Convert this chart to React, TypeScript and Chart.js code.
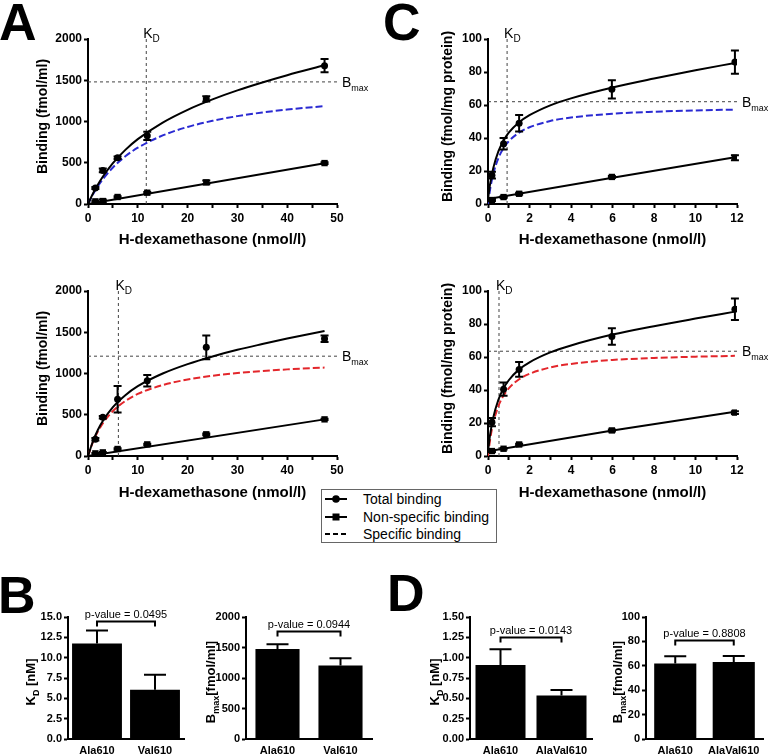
import React, { useEffect, useRef } from 'react';
import { Chart, registerables } from 'chart.js';

Chart.register(...registerables);

const FONT = "'Liberation Sans', Arial, Helvetica, sans-serif";
Chart.defaults.font.family = FONT;
Chart.defaults.color = '#000';

// ---------- Panel A (nmol/l 0-50) ----------
const A_CONC = [1.48, 2.97, 5.94, 11.9, 23.75, 47.5];
const A_CURVE_X = [0, 1, 2, 3, 5, 7.5, 10, 15, 20, 25, 30, 35, 40, 47.5];
const A_NS_LINE_X = [0, 47.5];

// A top (Ala610, blue)
const A1_TOTAL = [194, 407, 560, 826, 1274, 1677];
const A1_TOTAL_SEM = [12, 22, 15, 50, 32, 80];
const A1_NS = [32, 36, 85, 137, 262, 496];
const A1_NS_SEM = [6, 18, 8, 8, 22, 10];
const A1_TOTAL_FIT = [0, 127, 237, 333, 495, 656, 786, 987, 1142, 1268, 1377, 1473, 1561, 1681];
const A1_SPEC_FIT = [0, 117, 216, 302, 443, 578, 682, 831, 934, 1008, 1065, 1109, 1145, 1187];
const A1_NS_FIT = [0, 494];
const A1_KD = 11.7;
const A1_BMAX = 1480;

// A bottom (Val610, red)
const A2_TOTAL = [202, 469, 687, 913, 1317, 1422];
const A2_TOTAL_SEM = [15, 15, 160, 70, 145, 40];
const A2_NS = [32, 44, 85, 141, 263, 444];
const A2_NS_SEM = [5, 5, 8, 8, 10, 8];
const A2_TOTAL_FIT = [0, 179, 318, 427, 592, 737, 846, 1000, 1114, 1207, 1287, 1357, 1424, 1516];
const A2_SPEC_FIT = [0, 170, 299, 399, 545, 667, 752, 860, 927, 973, 1006, 1030, 1050, 1072];
const A2_NS_FIT = [0, 444];
const A2_KD = 6.1;
const A2_BMAX = 1210;

// ---------- Panel C (nmol/l 0-12) ----------
const C_CONC = [0.19, 0.75, 1.5, 5.97, 11.9];
const C_CURVE_X = [0, 0.1, 0.25, 0.5, 0.75, 1, 1.5, 2, 3, 4, 6, 8, 10, 11.9];
const C_NS_LINE_X = [0, 6, 11.9];

// C top (Ala610, blue)
const C1_TOTAL = [17.5, 36.5, 49, 69.5, 86];
const C1_TOTAL_SEM = [2, 3.5, 5, 5.5, 7];
const C1_NS = [2.4, 4.2, 6.2, 16.4, 28];
const C1_NS_SEM = [0.6, 0.5, 0.6, 0.6, 1.5];
const C1_TOTAL_FIT = [3.0, 12.0, 21.6, 31.9, 38.4, 43.2, 49.5, 53.8, 59.8, 64.0, 70.6, 76.0, 81.0, 85.5];
const C1_SPEC_FIT = [0, 8.8, 18.1, 27.8, 33.8, 38, 43.3, 46.5, 50.3, 52.4, 54.7, 55.9, 56.7, 57.2];
const C1_NS_FIT = [3.0, 15.9, 28.3];
const C1_KD = 0.92;
const C1_BMAX = 62;

// C bottom (AlaVal610, red)
const C2_TOTAL = [20.5, 40.5, 52.5, 72.5, 89];
const C2_TOTAL_SEM = [2.5, 4, 4.5, 5, 6.5];
const C2_NS = [3, 4.4, 7, 15.5, 26.3];
const C2_NS_SEM = [0.5, 0.5, 0.5, 0.6, 0.8];
const C2_TOTAL_FIT = [2.8, 12.8, 23.1, 34.1, 41.0, 45.9, 52.5, 56.8, 62.8, 67.0, 73.6, 78.7, 83.3, 87.5];
const C2_SPEC_FIT = [0, 9.8, 19.8, 30.2, 36.6, 41, 46.5, 49.8, 53.7, 55.8, 58.2, 59.4, 60.2, 60.7];
const C2_NS_FIT = [2.8, 15.4, 26.8];
const C2_KD = 0.53;
const C2_BMAX = 63.5;

// ---------- Panels B and D (bars) ----------
const B_CATS = ['Ala610', 'Val610'];
const B_KD = [11.75, 6.05];
const B_KD_SEM = [1.58, 1.85];
const B_KD_P = 'p-value = 0.0495';
const B_KD_BRACKET = 14.5;
const B_BMAX = [1477, 1204];
const B_BMAX_SEM = [76, 120];
const B_BMAX_P = 'p-value = 0.0944';
const B_BMAX_BRACKET = 1770;

const D_CATS = ['Ala610', 'AlaVal610'];
const D_KD = [0.909, 0.534];
const D_KD_SEM = [0.196, 0.069];
const D_KD_P = 'p-value = 0.0143';
const D_KD_BRACKET = 1.254;
const D_BMAX = [61.9, 63.2];
const D_BMAX_SEM = [5.9, 4.9];
const D_BMAX_P = 'p-value = 0.8808';
const D_BMAX_BRACKET = 81;

const X_TITLE = 'H-dexamethasone (nmol/l)';
const BLUE = '#2a2ad2';
const RED = '#e3262b';

// ---------- drawing helpers ----------
function drawSubText(ctx: any, x: number, y: number, main: string, sub: string, tail: string,
  size: number, subSize: number, bold: boolean, align: string) {
  const w = bold ? 'bold ' : '';
  const f1 = `${w}${size}px ${FONT}`;
  const f2 = `${w}${subSize}px ${FONT}`;
  ctx.font = f1;
  const w1 = ctx.measureText(main).width;
  const w3 = tail ? ctx.measureText(tail).width : 0;
  ctx.font = f2;
  const w2 = sub ? ctx.measureText(sub).width : 0;
  const total = w1 + w2 + w3;
  const sx = align === 'center' ? x - total / 2 : x;
  ctx.fillStyle = '#000';
  ctx.textAlign = 'left';
  ctx.textBaseline = 'alphabetic';
  ctx.font = f1;
  ctx.fillText(main, sx, y);
  if (sub) {
    ctx.font = f2;
    ctx.fillText(sub, sx + w1, y + size * 0.3);
  }
  if (tail) {
    ctx.font = f1;
    ctx.fillText(tail, sx + w1 + w2, y);
  }
}

function drawRotated(ctx: any, cx: number, cy: number, main: string, sub: string, tail: string,
  size: number, subSize: number, bold: boolean) {
  ctx.save();
  ctx.translate(cx, cy);
  ctx.rotate(-Math.PI / 2);
  drawSubText(ctx, 0, size * 0.36, main, sub, tail, size, subSize, bold, 'center');
  ctx.restore();
}

const errorBarPlugin = {
  id: 'errbars',
  afterDatasetsDraw(chart: any) {
    const ctx = chart.ctx;
    chart.data.datasets.forEach((ds: any, i: number) => {
      if (!ds.sem) return;
      const meta = chart.getDatasetMeta(i);
      const ys = chart.scales[meta.yAxisID];
      ctx.save();
      ctx.strokeStyle = '#000';
      ctx.lineWidth = 2;
      meta.data.forEach((el: any, j: number) => {
        const raw = ds.data[j];
        const v = typeof raw === 'number' ? raw : raw.y;
        const e = ds.sem[j];
        if (!e) return;
        const x = el.x;
        const yT = ys.getPixelForValue(v + e);
        const yB = ds.errUpOnly ? ys.getPixelForValue(v) : ys.getPixelForValue(v - e);
        const cw = ds.capWidth / 2;
        ctx.beginPath();
        ctx.moveTo(x, yT);
        ctx.lineTo(x, yB);
        ctx.moveTo(x - cw, yT);
        ctx.lineTo(x + cw, yT);
        if (!ds.errUpOnly) {
          ctx.moveTo(x - cw, yB);
          ctx.lineTo(x + cw, yB);
        }
        ctx.stroke();
      });
      ctx.restore();
    });
  },
};
Chart.register(errorBarPlugin);

const pts = (xs: number[], ys: number[]) => xs.map((x, i) => ({ x, y: ys[i] }));

function bindingChart(o: any) {
  const axisCommon = {
    grid: { drawOnChartArea: false, drawTicks: true, tickLength: 4, tickWidth: 2, tickColor: '#000' },
    border: { display: true, color: '#000', width: 2 },
  };
  return {
    type: 'line',
    data: {
      datasets: [
        { data: pts(o.conc, o.total), showLine: false, pointStyle: 'circle', pointRadius: 3.5,
          pointBackgroundColor: '#000', pointBorderWidth: 0, sem: o.totalSem, capWidth: 8 },
        { data: pts(o.conc, o.ns), showLine: false, pointStyle: 'rect', pointRadius: 4.5,
          pointBackgroundColor: '#000', pointBorderWidth: 0, sem: o.nsSem, capWidth: 8 },
        { data: pts(o.curveX, o.totalFit), borderColor: '#000', borderWidth: 2, pointRadius: 0,
          cubicInterpolationMode: 'monotone' },
        { data: pts(o.nsLineX, o.nsFit), borderColor: '#000', borderWidth: 2, pointRadius: 0 },
        { data: pts(o.curveX, o.specFit), borderColor: o.specColor, borderWidth: 2, borderDash: [7, 3],
          pointRadius: 0, cubicInterpolationMode: 'monotone' },
        { data: [{ x: o.kd, y: 0 }, { x: o.kd, y: o.yMax }], borderColor: '#444', borderWidth: 1,
          borderDash: [3, 3], pointRadius: 0 },
        { data: [{ x: 0, y: o.bmax }, { x: o.xMax, y: o.bmax }], borderColor: '#444', borderWidth: 1,
          borderDash: [3, 3], pointRadius: 0 },
      ],
    },
    options: {
      responsive: false,
      animation: false,
      events: [],
      layout: { padding: { top: o.padTop, right: o.padRight, left: 0, bottom: 0 } },
      plugins: { legend: { display: false }, tooltip: { enabled: false } },
      scales: {
        x: {
          type: 'linear', min: 0, max: o.xMax,
          ticks: {
            stepSize: o.xStep, autoSkip: false, maxRotation: 0, padding: 3,
            font: { size: 12, weight: 'bold' },
            callback: (v: number) => (v % o.labelEvery === 0 ? String(v) : ''),
          },
          ...axisCommon,
          title: { display: true, text: X_TITLE, font: { size: 15, weight: 'bold' },
            padding: { top: 0, bottom: o.xTitlePad } },
          afterFit: (s: any) => { s.height = o.xAxisH; },
        },
        y: {
          type: 'linear', min: 0, max: o.yMax,
          ticks: { stepSize: o.yStep, padding: 2, font: { size: 12, weight: 'bold' },
            callback: (v: number) => String(v) },
          ...axisCommon,
          afterFit: (s: any) => { s.width = o.yAxisW; },
        },
      },
    },
    plugins: [{
      id: 'refLabels',
      afterDraw(chart: any) {
        const { ctx, chartArea, scales } = chart;
        const kx = scales.x.getPixelForValue(o.kd);
        ctx.save();
        drawSubText(ctx, kx - 3, chartArea.top - 1, 'K', 'D', '', 14, 10, false, 'left');
        const by = scales.y.getPixelForValue(o.bmax);
        drawSubText(ctx, chartArea.right + 5, by + 5, 'B', 'max', '', 14, 9, false, 'left');
        drawRotated(ctx, o.yTitleX, (chartArea.top + chartArea.bottom) / 2 - 5, o.yTitle, '', '', 14, 10, true);
        ctx.restore();
      },
    }],
  };
}

function barChart(o: any) {
  return {
    type: 'bar',
    data: {
      labels: o.cats,
      datasets: [{ data: o.vals, backgroundColor: '#000', barPercentage: o.barPct, categoryPercentage: 1,
        sem: o.sems, errUpOnly: true, capWidth: o.cap }],
    },
    options: {
      responsive: false,
      animation: false,
      events: [],
      layout: { padding: { top: 57, right: o.padRight, left: 0, bottom: 0 } },
      plugins: { legend: { display: false }, tooltip: { enabled: false } },
      scales: {
        x: {
          grid: { display: false, drawTicks: false },
          border: { display: true, color: '#000', width: 2 },
          ticks: { padding: 5, autoSkip: false, maxRotation: 0, font: { size: 11, weight: 'bold' } },
          afterFit: (s: any) => { s.height = 15; },
        },
        y: {
          min: 0, max: o.yMax,
          ticks: { stepSize: o.yStep, padding: 2, font: { size: 11, weight: 'bold' },
            callback: (v: number) => Number(v).toFixed(o.decimals) },
          grid: { drawOnChartArea: false, drawTicks: true, tickLength: 4, tickWidth: 2, tickColor: '#000' },
          border: { display: true, color: '#000', width: 2 },
          afterFit: (s: any) => { s.width = o.yAxisW; },
        },
      },
    },
    plugins: [{
      id: 'barDecor',
      afterDraw(chart: any) {
        const { ctx, chartArea, scales } = chart;
        ctx.save();
        drawRotated(ctx, o.titleX, (chartArea.top + chartArea.bottom) / 2 + 4,
          o.title[0], o.title[1], o.title[2], 13, 9, true);
        const x1 = scales.x.getPixelForValue(0);
        const x2 = scales.x.getPixelForValue(1);
        const yy = Math.round(scales.y.getPixelForValue(o.bracketY)) + 0.5;
        ctx.strokeStyle = '#000';
        ctx.lineWidth = 2;
        ctx.beginPath();
        ctx.moveTo(x1, yy + 5);
        ctx.lineTo(x1, yy);
        ctx.lineTo(x2, yy);
        ctx.lineTo(x2, yy + 5);
        ctx.stroke();
        ctx.font = `11px ${FONT}`;
        ctx.fillStyle = '#000';
        ctx.textAlign = 'center';
        ctx.textBaseline = 'alphabetic';
        ctx.fillText(o.pText, (x1 + x2) / 2, yy - 4);
        ctx.restore();
      },
    }],
  };
}

function ChartBox({ left, top, width, height, config }: any) {
  const ref = useRef<HTMLCanvasElement>(null);
  useEffect(() => {
    const chart = new Chart(ref.current as HTMLCanvasElement, config);
    return () => chart.destroy();
  }, []);
  return (
    <div style={{ position: 'absolute', left, top, width, height }}>
      <canvas ref={ref} width={width} height={height} style={{ width, height, display: 'block' }} />
    </div>
  );
}

const letterStyle: any = {
  position: 'absolute', fontFamily: FONT, fontWeight: 'bold', fontSize: 52, lineHeight: '52px', color: '#000',
};

function Legend() {
  const row = (top: number, sym: any, text: string) => (
    <div style={{ position: 'absolute', left: 0, top, height: 18, width: 176 }}>
      <svg width={26} height={18} style={{ position: 'absolute', left: 2, top: 0 }}>{sym}</svg>
      <span style={{ position: 'absolute', left: 41, top: 0, lineHeight: '18px', fontSize: 14, whiteSpace: 'nowrap' }}>{text}</span>
    </div>
  );
  return (
    <div style={{ position: 'absolute', left: 321, top: 489, width: 176, height: 54, border: '1px solid #666',
      boxSizing: 'border-box', fontFamily: FONT, color: '#000', background: '#fff' }}>
      {row(0, <g><line x1={1} y1={9} x2={23} y2={9} stroke="#000" strokeWidth={2} /><circle cx={12} cy={9} r={3.8} fill="#000" /></g>, 'Total binding')}
      {row(18, <g><line x1={1} y1={9} x2={23} y2={9} stroke="#000" strokeWidth={2} /><rect x={8.5} y={5.5} width={7} height={7} fill="#000" /></g>, 'Non-specific binding')}
      {row(35, <g><line x1={1} y1={9} x2={23} y2={9} stroke="#000" strokeWidth={2} strokeDasharray="5,3" /></g>, 'Specific binding')}
    </div>
  );
}

export default function App() {
  const aTop = bindingChart({
    conc: A_CONC, total: A1_TOTAL, totalSem: A1_TOTAL_SEM, ns: A1_NS, nsSem: A1_NS_SEM,
    curveX: A_CURVE_X, totalFit: A1_TOTAL_FIT, specFit: A1_SPEC_FIT, nsLineX: A_NS_LINE_X, nsFit: A1_NS_FIT,
    kd: A1_KD, bmax: A1_BMAX, specColor: BLUE, xMax: 50, xStep: 5, labelEvery: 10, yMax: 2000, yStep: 500,
    padTop: 39, padRight: 47, yAxisW: 88, xAxisH: 46, xTitlePad: 1, yTitleX: 42, yTitle: 'Binding (fmol/ml)',
  });
  const aBot = bindingChart({
    conc: A_CONC, total: A2_TOTAL, totalSem: A2_TOTAL_SEM, ns: A2_NS, nsSem: A2_NS_SEM,
    curveX: A_CURVE_X, totalFit: A2_TOTAL_FIT, specFit: A2_SPEC_FIT, nsLineX: A_NS_LINE_X, nsFit: A2_NS_FIT,
    kd: A2_KD, bmax: A2_BMAX, specColor: RED, xMax: 50, xStep: 5, labelEvery: 10, yMax: 2000, yStep: 500,
    padTop: 41, padRight: 47, yAxisW: 88, xAxisH: 46, xTitlePad: 0, yTitleX: 42, yTitle: 'Binding (fmol/ml)',
  });
  const cTop = bindingChart({
    conc: C_CONC, total: C1_TOTAL, totalSem: C1_TOTAL_SEM, ns: C1_NS, nsSem: C1_NS_SEM,
    curveX: C_CURVE_X, totalFit: C1_TOTAL_FIT, specFit: C1_SPEC_FIT, nsLineX: C_NS_LINE_X, nsFit: C1_NS_FIT,
    kd: C1_KD, bmax: C1_BMAX, specColor: BLUE, xMax: 12, xStep: 1, labelEvery: 2, yMax: 100, yStep: 20,
    padTop: 39, padRight: 31, yAxisW: 104, xAxisH: 46, xTitlePad: 1, yTitleX: 63, yTitle: 'Binding (fmol/mg protein)',
  });
  const cBot = bindingChart({
    conc: C_CONC, total: C2_TOTAL, totalSem: C2_TOTAL_SEM, ns: C2_NS, nsSem: C2_NS_SEM,
    curveX: C_CURVE_X, totalFit: C2_TOTAL_FIT, specFit: C2_SPEC_FIT, nsLineX: C_NS_LINE_X, nsFit: C2_NS_FIT,
    kd: C2_KD, bmax: C2_BMAX, specColor: RED, xMax: 12, xStep: 1, labelEvery: 2, yMax: 100, yStep: 20,
    padTop: 41, padRight: 31, yAxisW: 104, xAxisH: 46, xTitlePad: 0, yTitleX: 63, yTitle: 'Binding (fmol/mg protein)',
  });
  const bKd = barChart({ cats: B_CATS, vals: B_KD, sems: B_KD_SEM, yMax: 15, yStep: 2.5, decimals: 1,
    yAxisW: 68, padRight: 8, barPct: 0.86, cap: 22, titleX: 30, title: ['K', 'D', ' [nM]'],
    bracketY: B_KD_BRACKET, pText: B_KD_P });
  const bBmax = barChart({ cats: B_CATS, vals: B_BMAX, sems: B_BMAX_SEM, yMax: 2000, yStep: 500, decimals: 0,
    yAxisW: 54, padRight: 12, barPct: 0.7, cap: 22, titleX: 18, title: ['B', 'max', '[fmol/ml]'],
    bracketY: B_BMAX_BRACKET, pText: B_BMAX_P });
  const dKd = barChart({ cats: D_CATS, vals: D_KD, sems: D_KD_SEM, yMax: 1.5, yStep: 0.25, decimals: 2,
    yAxisW: 86, padRight: 8, barPct: 0.82, cap: 22, titleX: 50, title: ['K', 'D', ' [nM]'],
    bracketY: D_KD_BRACKET, pText: D_KD_P });
  const dBmax = barChart({ cats: D_CATS, vals: D_BMAX, sems: D_BMAX_SEM, yMax: 100, yStep: 20, decimals: 0,
    yAxisW: 46, padRight: 5, barPct: 0.72, cap: 22, titleX: 17, title: ['B', 'max', '[fmol/ml]'],
    bracketY: D_BMAX_BRACKET, pText: D_BMAX_P });

  return (
    <div style={{ position: 'absolute', left: 0, top: 0, width: 768, height: 754, background: '#fff', overflow: 'hidden' }}>
      <ChartBox left={0} top={0} width={384} height={250} config={aTop} />
      <ChartBox left={384} top={0} width={384} height={250} config={cTop} />
      <ChartBox left={0} top={250} width={384} height={252} config={aBot} />
      <ChartBox left={384} top={250} width={384} height={252} config={cBot} />
      <ChartBox left={0} top={560} width={192} height={194} config={bKd} />
      <ChartBox left={192} top={560} width={192} height={194} config={bBmax} />
      <ChartBox left={384} top={560} width={216} height={194} config={dKd} />
      <ChartBox left={600} top={560} width={168} height={194} config={dBmax} />
      <Legend />
      <div style={{ ...letterStyle, left: -1, top: -4 }}>A</div>
      <div style={{ ...letterStyle, left: 383, top: -4 }}>C</div>
      <div style={{ ...letterStyle, left: -2, top: 569 }}>B</div>
      <div style={{ ...letterStyle, left: 387, top: 567 }}>D</div>
    </div>
  );
}
